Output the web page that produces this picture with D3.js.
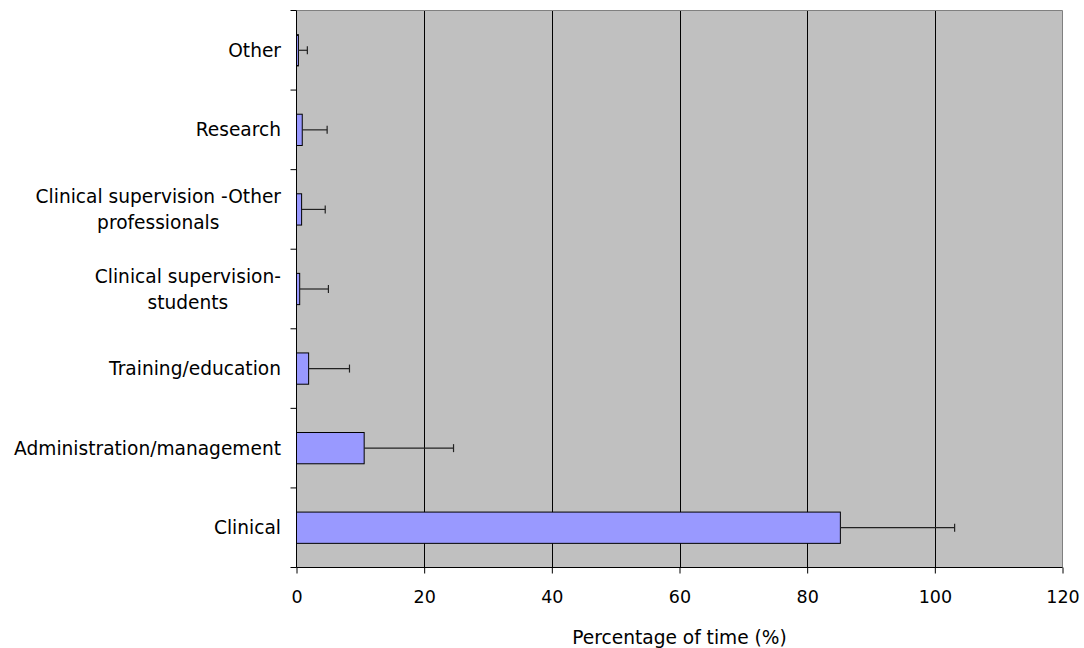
<!DOCTYPE html>
<html>
<head>
<meta charset="utf-8">
<script src="https://cdn.jsdelivr.net/npm/d3@7"></script>
<style>
  html, body { margin: 0; padding: 0; background: #fff; }
  svg text { font-family: "DejaVu Sans", Verdana, sans-serif; fill: #000; }
</style>
</head>
<body>
<svg id="chart" width="1084" height="648"></svg>
<script>
// Categories listed bottom to top as drawn
const categories = [
  ["Clinical"],
  ["Administration/management"],
  ["Training/education"],
  ["Clinical supervision-", "students"],
  ["Clinical supervision -Other", "professionals"],
  ["Research"],
  ["Other"]
];
const means = [85.2, 10.6, 1.9, 0.5, 0.8, 0.9, 0.3];
const sds = [17.9, 14.0, 6.4, 4.5, 3.7, 3.9, 1.4];
const xTicks = [0, 20, 40, 60, 80, 100, 120];
const xTitle = "Percentage of time (%)";

const svg = d3.select("#chart");
const m = { left: 296.5, right: 1062.5, top: 10.5, bottom: 567.5 };
const labelFont = 18.6;
const tickFont = 17.5;

const x = d3.scaleLinear().domain([0, 120]).range([m.left, m.right]);
const keys = categories.map((c, i) => i);
const y = d3.scaleBand().domain(keys).range([m.bottom, m.top]).paddingInner(0.607).paddingOuter(0.3035);
const yOuter = d3.scaleBand().domain(keys).range([m.bottom, m.top]).padding(0);

// plot background
svg.append("rect")
  .attr("x", m.left).attr("y", m.top)
  .attr("width", m.right - m.left).attr("height", m.bottom - m.top)
  .attr("fill", "#c0c0c0");

// gridlines
svg.append("g").selectAll("line")
  .data(xTicks.filter(t => t > 0 && t < 120))
  .join("line")
  .attr("x1", d => Math.round(x(d)) + 0.5).attr("x2", d => Math.round(x(d)) + 0.5)
  .attr("y1", m.top).attr("y2", m.bottom)
  .attr("stroke", "#000").attr("stroke-width", 1);

// top and right border
svg.append("path")
  .attr("d", `M${m.left},${m.top}H${m.right}V${m.bottom}`)
  .attr("fill", "none").attr("stroke", "#808080").attr("stroke-width", 1);

// bars
svg.append("g").selectAll("rect")
  .data(means)
  .join("rect")
  .attr("x", x(0))
  .attr("y", (d, i) => y(i))
  .attr("width", d => x(d) - x(0))
  .attr("height", y.bandwidth())
  .attr("fill", "#9999ff")
  .attr("stroke", "#000").attr("stroke-width", 1);

// error bars
const eb = svg.append("g").attr("stroke", "#222").attr("stroke-width", 1.2);
means.forEach((d, i) => {
  const cy = y(i) + y.bandwidth() / 2;
  eb.append("line").attr("x1", x(d)).attr("x2", x(d + sds[i])).attr("y1", cy).attr("y2", cy);
  eb.append("line").attr("x1", x(d + sds[i])).attr("x2", x(d + sds[i])).attr("y1", cy - 4).attr("y2", cy + 4);
});

// x axis
const xAxis = d3.axisBottom(x).tickValues(xTicks).tickSize(6).tickPadding(17).tickFormat(d3.format("d"));
const gx = svg.append("g").attr("transform", `translate(0,${m.bottom})`).call(xAxis);
gx.select(".domain").attr("stroke", "#000").attr("d", `M${m.left},0H${m.right}`);
gx.selectAll(".tick line").attr("stroke", "#000");
gx.selectAll(".tick text").attr("font-size", tickFont).attr("font-family", '"DejaVu Sans", Verdana, sans-serif');

// y axis (ticks at band boundaries)
const yBoundaries = keys.map(k => yOuter(k)).concat([m.bottom]);
const gy = svg.append("g");
gy.append("line").attr("x1", m.left).attr("x2", m.left).attr("y1", m.top).attr("y2", m.bottom).attr("stroke", "#000");
gy.selectAll("line.t").data(yBoundaries).join("line").attr("class", "t")
  .attr("x1", m.left - 6).attr("x2", m.left).attr("y1", d => d).attr("y2", d => d).attr("stroke", "#000");

// category labels (multi-line, centred on each other, right aligned block)
const labelRight = 281;
const lineH = 26;
categories.forEach((lines, i) => {
  const cy = yOuter(i) + yOuter.bandwidth() / 2;
  const g = svg.append("g");
  const texts = lines.map((t, j) => g.append("text")
    .attr("font-size", labelFont)
    .attr("y", cy + (j - (lines.length - 1) / 2) * lineH)
    .attr("dy", "0.35em")
    .text(t));
  const widths = texts.map(t => t.node().getComputedTextLength());
  const maxW = Math.max(...widths);
  texts.forEach(t => t.attr("text-anchor", "middle").attr("x", labelRight - maxW / 2));
});

// x title
svg.append("text")
  .attr("x", (m.left + m.right) / 2).attr("y", 637)
  .attr("dy", "0.35em")
  .attr("text-anchor", "middle")
  .attr("font-size", labelFont)
  .text(xTitle);
</script>
</body>
</html>
